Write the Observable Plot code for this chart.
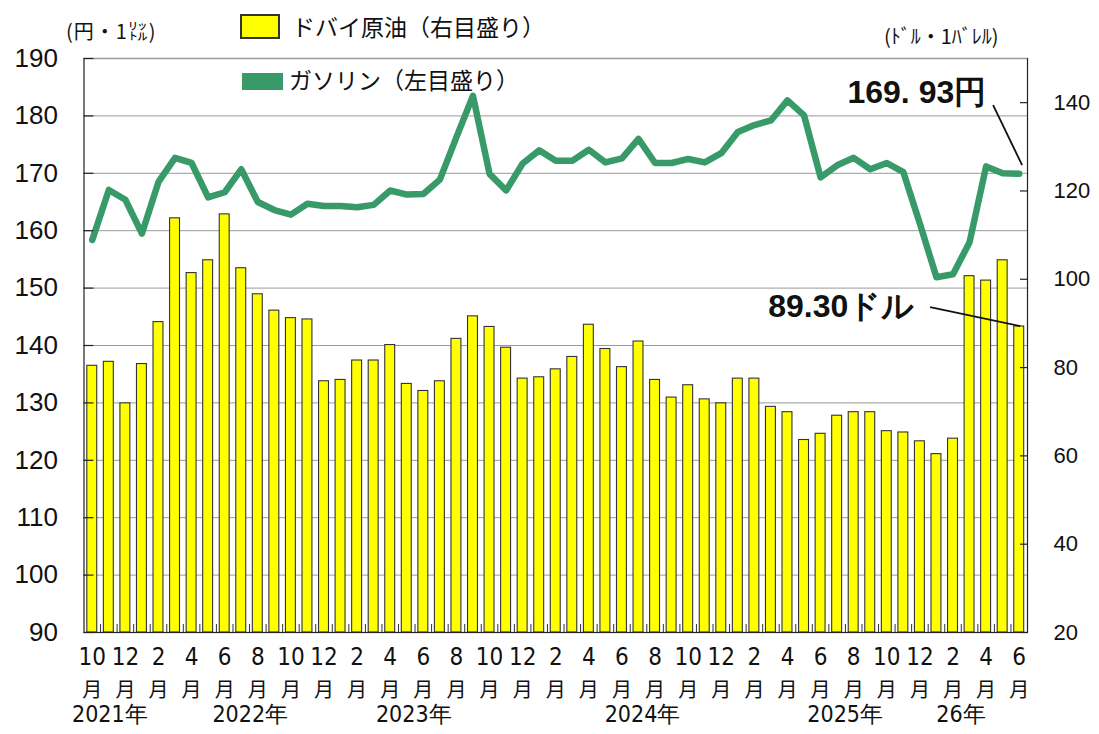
<!DOCTYPE html>
<html><head><meta charset="utf-8">
<script src="https://cdn.jsdelivr.net/npm/d3@7"></script>
<script src="https://cdn.jsdelivr.net/npm/@observablehq/plot@0.6"></script>
<style>
body{margin:0;background:#fff;}
#wrap{position:relative;width:1099px;height:734px;font-family:"Noto Sans CJK JP",sans-serif;color:#111;}
#wrap svg{position:absolute;left:0;top:0;}
.abs{position:absolute;white-space:nowrap;line-height:1;}
</style></head><body><div id="wrap"></div>
<script>
// ---- data ----
const months = [
  "2021-10","2021-11","2021-12",
  "2022-01","2022-02","2022-03","2022-04","2022-05","2022-06","2022-07","2022-08","2022-09","2022-10","2022-11","2022-12",
  "2023-01","2023-02","2023-03","2023-04","2023-05","2023-06","2023-07","2023-08","2023-09","2023-10","2023-11","2023-12",
  "2024-01","2024-02","2024-03","2024-04","2024-05","2024-06","2024-07","2024-08","2024-09","2024-10","2024-11","2024-12",
  "2025-01","2025-02","2025-03","2025-04","2025-05","2025-06","2025-07","2025-08","2025-09","2025-10","2025-11","2025-12",
  "2026-01","2026-02","2026-03","2026-04","2026-05","2026-06"
];
// gasoline, yen per litre (left axis)
const gasoline = [
  158.4,167.1,165.4,
  159.5,168.5,172.7,171.8,165.8,166.7,170.7,165.0,163.6,162.8,164.7,164.3,
  164.3,164.1,164.5,167.0,166.3,166.4,168.9,176.3,183.5,169.9,167.0,171.7,
  174.0,172.2,172.2,174.1,171.9,172.6,176.0,171.8,171.8,172.5,171.9,173.5,
  177.2,178.4,179.2,182.7,180.1,169.3,171.4,172.7,170.7,171.8,170.2,161.2,
  151.9,152.4,158.0,171.2,170.0,169.93
];
// Dubai crude, dollars per barrel (right axis)
const dubai = [
  80.4,81.3,71.9,
  80.8,90.3,113.8,101.4,104.3,114.7,102.5,96.6,92.9,91.2,90.9,76.9,
  77.2,81.6,81.6,85.1,76.3,74.7,76.9,86.5,91.6,89.2,84.5,77.5,
  77.8,79.6,82.4,89.7,84.2,80.1,85.9,77.2,73.2,76.0,72.8,71.9,
  77.5,77.5,71.1,69.9,63.6,65.0,69.1,69.9,69.9,65.6,65.3,63.3,
  60.4,63.9,100.7,99.7,104.3,89.30
];
const leftTicks = [90,100,110,120,130,140,150,160,170,180,190];
const rightTicks = [20,40,60,80,100,120,140];
const monthTickLabels = ["10","12","2","4","6","8","10","12","2","4","6","8","10","12","2",
                         "4","6","8","10","12","2","4","6","8","10","12","2","4","6"];
const yearLabels = ["2021年","2022年","2023年","2024年","2025年","26年"];
const yearMonths = ["2021-11","2022-07","2023-05","2024-07","2025-07","2026-02"];
const gasLabel = "169. 93円";
const oilLabel = "89.30ドル";

// ---- layout ----
const W = 1099, H = 734, mL = 83.5, mR = 72, mT = 58, mB = 102;
const plotW = W - mL - mR;
const step = plotW / months.length;
const GREEN = "#389a68";
const numFont = "Liberation Sans, Arial, sans-serif";
const narrowFont = "Liberation Sans Narrow, DejaVu Sans Condensed, Liberation Sans, sans-serif";
const jpFont = "Noto Sans CJK JP, sans-serif";

// right axis (oil) mapped onto left axis (gasoline) domain
const toLeft = v => 90 + (v - 20) * 100 / 130;
const fromLeft = v => Math.round(20 + (v - 90) * 130 / 100);

const data = months.map((m, i) => ({month: m, gas: gasoline[i], oil: dubai[i]}));
const evenMonths = months.filter((m, i) => i % 2 === 0).map((m, i) => ({month: m, label: monthTickLabels[i]}));
const last = data[data.length - 1];
const yearDx = [1, 9, 7, 4, 8, 8];

const marks = [
  Plot.ruleY(leftTicks.slice(1, -1), {stroke: "#9a9a9a", strokeWidth: 1}),
  Plot.barY(data, {x: "month", y1: d => 90, y2: d => toLeft(d.oil), fill: "#ffff00", stroke: "#333", strokeWidth: 1.1}),
  Plot.ruleX(months.slice(1), {x: d => d, y1: d => 90, y2: d => 91.4, dx: -step / 2, stroke: "#333", strokeWidth: 1}),
  Plot.line(data, {x: "month", y: "gas", stroke: GREEN, strokeWidth: 6.5, strokeLinejoin: "round"}),
  Plot.frame({stroke: "#222", strokeWidth: 1.2}),
  Plot.ruleY([190], {stroke: "#9a9a9a", strokeWidth: 1.2}),
  // inward ticks
  Plot.ruleY(leftTicks, {insetRight: plotW - 10, stroke: "#222", strokeWidth: 1.2}),
  Plot.ruleY(rightTicks.map(toLeft), {insetLeft: plotW - 7, stroke: "#222", strokeWidth: 1.2}),
  Plot.axisY(leftTicks, {anchor: "left", label: null, tickSize: 0, tickPadding: 26, fontSize: 26, fontFamily: numFont, fill: "#111"}),
  Plot.axisY(rightTicks.map(toLeft), {anchor: "right", label: null, tickSize: 0, tickPadding: 26, tickFormat: fromLeft, fontSize: 22, fontFamily: numFont, fill: "#111"}),
  Plot.text(evenMonths, {x: "month", text: "label", frameAnchor: "bottom", dy: 32, fontSize: 24, fontFamily: narrowFont, fill: "#111"}),
  Plot.text(evenMonths, {x: "month", text: d => "月", frameAnchor: "bottom", dy: 64, fontSize: 20, fontFamily: jpFont, fill: "#111"}),
  ...yearLabels.map((t, i) => Plot.text([yearMonths[i]], {x: d => d, text: d => t, frameAnchor: "bottom", dy: 89, dx: yearDx[i], fontSize: 23, fontFamily: narrowFont, fill: "#111"})),
  Plot.text([last], {x: "month", y: "gas", text: d => gasLabel, textAnchor: "end", dx: -33, dy: -81, fontSize: 32, fontWeight: "bold", fontFamily: numFont, fill: "#111"}),
  Plot.text([last], {x: "month", y: d => toLeft(d.oil), text: d => oilLabel, textAnchor: "end", dx: -105, dy: -20, fontSize: 32, fontWeight: "bold", fontFamily: numFont, fill: "#111"})
];

const svg = Plot.plot({
  width: W, height: H,
  marginLeft: mL, marginRight: mR, marginTop: mT, marginBottom: mB,
  style: {background: "transparent", overflow: "visible", fontFamily: numFont},
  x: {type: "band", domain: months, paddingInner: 0.4, paddingOuter: 0.2, axis: null},
  y: {domain: [90, 190], axis: null},
  marks
});
const wrap = document.getElementById("wrap");
wrap.appendChild(svg);

// leader lines from library scales
const xs = svg.scale("x"), ys = svg.scale("y");
const cx = xs.apply(last.month) + xs.bandwidth / 2;
const yg = ys.apply(last.gas), yb = ys.apply(toLeft(last.oil));
const g = d3.select(svg).append("g").attr("stroke", "#111").attr("stroke-width", 1.8);
g.append("line").attr("x1", cx - 25.6).attr("y1", yg - 68).attr("x2", cx + 3.4).attr("y2", yg - 8);
g.append("line").attr("x1", cx - 88.6).attr("y1", yb - 19).attr("x2", cx + 1.4).attr("y2", yb);

// legend & unit labels
function addDiv(html, css) {
  const d = document.createElement("div");
  d.className = "abs";
  d.innerHTML = html;
  Object.assign(d.style, css);
  wrap.appendChild(d);
}
addDiv("(円・1㍑)", {left: "66px", top: "21px", fontSize: "20px", letterSpacing: "1px"});
addDiv("(ﾄﾞﾙ・1ﾊﾞﾚﾙ)", {left: "884px", top: "26px", fontSize: "20px"});
addDiv("", {left: "240px", top: "14px", width: "40px", height: "25px", background: "#ffff00", border: "2px solid #333", boxSizing: "border-box"});
addDiv("ドバイ原油（右目盛り）", {left: "292px", top: "15px", fontSize: "23px"});
addDiv("", {left: "242px", top: "73px", width: "41px", height: "17px", background: GREEN});
addDiv("ガソリン（左目盛り）", {left: "289px", top: "68px", fontSize: "23px"});
</script>
</body></html>
